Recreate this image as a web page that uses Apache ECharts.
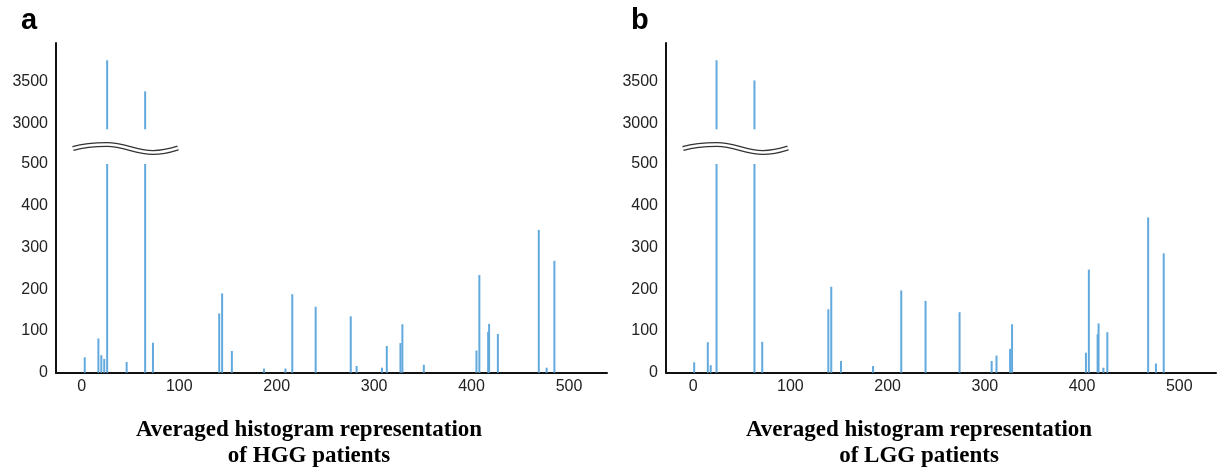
<!DOCTYPE html>
<html>
<head>
<meta charset="utf-8">
<script src="https://cdn.jsdelivr.net/npm/echarts@6/dist/echarts.min.js"></script>
<style>
html,body{margin:0;padding:0;background:#fff;}
#chart{width:1221px;height:470px;}
</style>
</head>
<body>
<div id="chart"></div>
<script>
// ---- data ----
const hggBins   = [3, 17, 20, 23, 26, 46, 65, 73, 141, 144, 154, 187, 209, 216, 240, 276, 282, 308, 313, 327, 329, 351, 405, 408, 417, 418, 427, 469, 477, 485];
const hggCounts = [37, 82, 42, 33, 3750, 26, 3380, 72, 142, 190, 52, 10, 10, 188, 158, 135, 16, 12, 64, 71, 116, 19, 53, 234, 98, 117, 93, 342, 12, 268];
const lggBins   = [1, 15, 18, 24, 63, 71, 139, 142, 152, 185, 214, 239, 274, 307, 312, 326, 328, 404, 407, 416, 417, 422, 426, 468, 476, 484];
const lggCounts = [25, 73, 18, 3750, 3510, 74, 152, 206, 28, 16, 197, 172, 145, 28, 41, 57, 116, 48, 247, 92, 118, 12, 97, 372, 22, 286];
const xTicks = [0, 100, 200, 300, 400, 500];
const highTicks = [3000, 3500];
const panelLetters = ['a', 'b'];
const titles = [['Averaged histogram representation', 'of HGG patients'], ['Averaged histogram representation', 'of LGG patients']];

const lowMax = 500, highMin = 2929, highMax = 3956;
const barColor = '#62a9dd';

const panels = [
  {bins: hggBins, counts: hggCounts, left: 56, width: 551, xmin: -26.5, xmax: 539, off: 0},
  {bins: lggBins, counts: lggCounts, left: 666, width: 550, xmin: -28, xmax: 537.8, off: 610}
];

const grids = [], xAxes = [], yAxes = [], series = [], graphic = [];
const labelFont = {fontFamily: 'Liberation Sans, Arial, sans-serif', fontSize: 16, color: '#222', formatter: v => String(v)};

panels.forEach((p, i) => {
  const pairs = p.bins.map((b, k) => [b, p.counts[k]]);
  grids.push({left: p.left, top: 43, width: p.width, height: 86.3});
  grids.push({left: p.left, top: 164, width: p.width, height: 208.7});
  const gu = 2 * i, gl = 2 * i + 1;
  xAxes.push({type: 'value', gridIndex: gu, min: p.xmin, max: p.xmax, show: false});
  xAxes.push({type: 'value', gridIndex: gl, min: p.xmin, max: p.xmax,
    axisLine: {show: true, onZero: false, lineStyle: {color: '#111', width: 2}},
    axisTick: {show: false}, splitLine: {show: false},
    axisLabel: Object.assign({margin: 6, customValues: xTicks}, labelFont)});
  yAxes.push({type: 'value', gridIndex: gu, min: highMin, max: highMax,
    axisLine: {show: true, onZero: false, lineStyle: {color: '#111', width: 2}},
    axisTick: {show: false}, splitLine: {show: false},
    axisLabel: Object.assign({margin: 8, customValues: highTicks}, labelFont)});
  yAxes.push({type: 'value', gridIndex: gl, min: 0, max: lowMax, interval: 100,
    axisLine: {show: true, onZero: false, lineStyle: {color: '#111', width: 2}},
    axisTick: {show: false}, splitLine: {show: false},
    axisLabel: Object.assign({margin: 8}, labelFont)});
  series.push({type: 'bar', xAxisIndex: gu, yAxisIndex: gu, barWidth: 2, clip: true,
    data: pairs.filter(d => d[1] > lowMax), itemStyle: {color: barColor}});
  series.push({type: 'bar', xAxisIndex: gl, yAxisIndex: gl, barWidth: 2, clip: true,
    data: pairs, itemStyle: {color: barColor}});

  graphic.push({type: 'line', shape: {x1: p.left, y1: 129, x2: p.left, y2: 165}, style: {stroke: '#111', lineWidth: 2}});
  const o = p.off;
  const segs = [
    {x1: 73+o, y1: 148.5, cpx1: 85+o, cpy1: 145, cpx2: 95+o, cpy2: 144.5, x2: 107+o, y2: 144.5},
    {x1: 107+o, y1: 144.5, cpx1: 125+o, cpy1: 144.5, cpx2: 135+o, cpy2: 152.5, x2: 153+o, y2: 152.5},
    {x1: 153+o, y1: 152.5, cpx1: 163+o, cpy1: 152.5, cpx2: 170+o, cpy2: 150.5, x2: 178+o, y2: 148}
  ];
  segs.forEach(s => graphic.push({type: 'bezierCurve', shape: s, style: {stroke: '#333', lineWidth: 5, fill: null}}));
  segs.forEach(s => graphic.push({type: 'bezierCurve', shape: s, style: {stroke: '#fff', lineWidth: 2.6, fill: null}}));
  graphic.push({type: 'text', x: 21 + o, y: 35, style: {text: panelLetters[i], font: 'bold 29px "Liberation Sans", Arial, sans-serif', fill: '#000', verticalAlign: 'bottom'}});
  const cx = 309 + o;
  graphic.push({type: 'text', x: cx, y: 430.5, style: {text: titles[i][0], font: 'bold 23px "Liberation Serif", "Times New Roman", serif', fill: '#000', align: 'center', verticalAlign: 'middle'}});
  graphic.push({type: 'text', x: cx, y: 456, style: {text: titles[i][1], font: 'bold 23px "Liberation Serif", "Times New Roman", serif', fill: '#000', align: 'center', verticalAlign: 'middle'}});
});

const chart = echarts.init(document.getElementById('chart'));
chart.setOption({
  animation: false,
  backgroundColor: '#fff',
  grid: grids,
  xAxis: xAxes,
  yAxis: yAxes,
  series: series,
  graphic: graphic
});
</script>
</body>
</html>
